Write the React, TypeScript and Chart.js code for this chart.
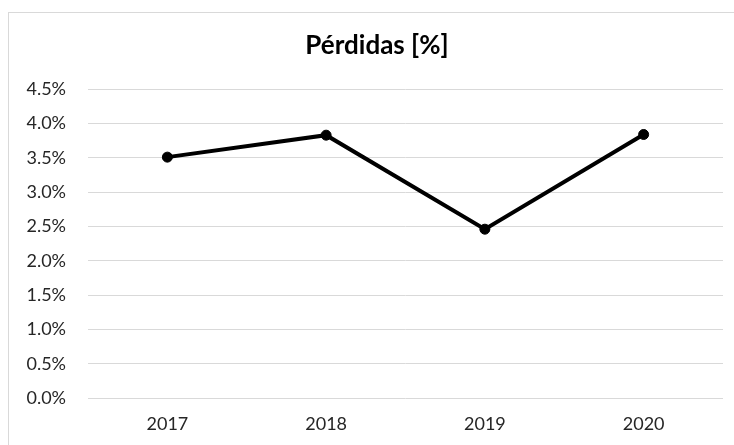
import React, { useEffect, useRef } from "react";
import { Chart, registerables } from "chart.js";

Chart.register(...registerables);

const categories: string[] = ["2017", "2018", "2019", "2020"];
const lossValues: number[] = [3.51, 3.83, 2.46, 3.84];
const yTickMin = 0;
const yTickMax = 4.5;
const yTickStep = 0.5;
const chartTitle = "Pérdidas [%]";

const FONT = "Lato, 'Open Sans', sans-serif";

const frameBorder = {
  id: "frameBorder",
  afterLayout(chart: any) {
    // Excel centres the title on the whole (partly cropped) chart frame
    if (chart.titleBlock) {
      chart.titleBlock.left = 31;
    }
  },
  beforeDraw(chart: any) {
    const ctx = chart.ctx;
    ctx.save();
    ctx.fillStyle = "#ffffff";
    ctx.fillRect(0, 0, chart.width, chart.height);
    ctx.strokeStyle = "#d9d9d9";
    ctx.lineWidth = 1;
    ctx.strokeRect(8.5, 12.5, 760, 460);
    ctx.restore();
  },
};

export default function App() {
  const ref = useRef<HTMLCanvasElement | null>(null);

  useEffect(() => {
    if (!ref.current) return;
    const chart = new Chart(ref.current, {
      type: "line",
      data: {
        labels: categories,
        datasets: [
          {
            label: chartTitle,
            data: lossValues,
            borderColor: "#000000",
            backgroundColor: "#000000",
            borderWidth: 4,
            pointRadius: 5,
            pointBackgroundColor: "#000000",
            pointBorderColor: "#000000",
            pointBorderWidth: 1,
            tension: 0,
          },
        ],
      },
      options: {
        responsive: false,
        animation: false,
        layout: { padding: { left: 0, right: 11, top: 0, bottom: 0 } },
        plugins: {
          legend: { display: false },
          tooltip: { enabled: false },
          title: {
            display: true,
            text: chartTitle,
            color: "#000000",
            font: { family: FONT, size: 26, weight: "bold", lineHeight: 1.2 },
            padding: { top: 30, bottom: 28 },
          },
        },
        scales: {
          x: {
            offset: true,
            grid: { display: false, drawTicks: false },
            border: { display: false },
            ticks: {
              color: "#262626",
              font: { family: FONT, size: 18 },
              padding: 15,
              maxRotation: 0,
            },
            afterFit(scale: any) {
              scale.height = 47;
            },
          },
          y: {
            min: yTickMin,
            max: yTickMax,
            grid: { color: "#d9d9d9", lineWidth: 1, drawTicks: false },
            border: { display: false },
            ticks: {
              stepSize: yTickStep,
              color: "#262626",
              font: { family: FONT, size: 18 },
              padding: 22,
              callback: (v: any) => Number(v).toFixed(1) + "%",
            },
            afterFit(scale: any) {
              scale.width = 88;
            },
          },
        },
      },
      plugins: [frameBorder],
    });
    return () => chart.destroy();
  }, []);

  return (
    <div style={{ position: "absolute", left: 0, top: 0, width: 734, height: 445, overflow: "hidden" }}>
      <canvas ref={ref} width={734} height={445} style={{ display: "block" }} />
    </div>
  );
}
